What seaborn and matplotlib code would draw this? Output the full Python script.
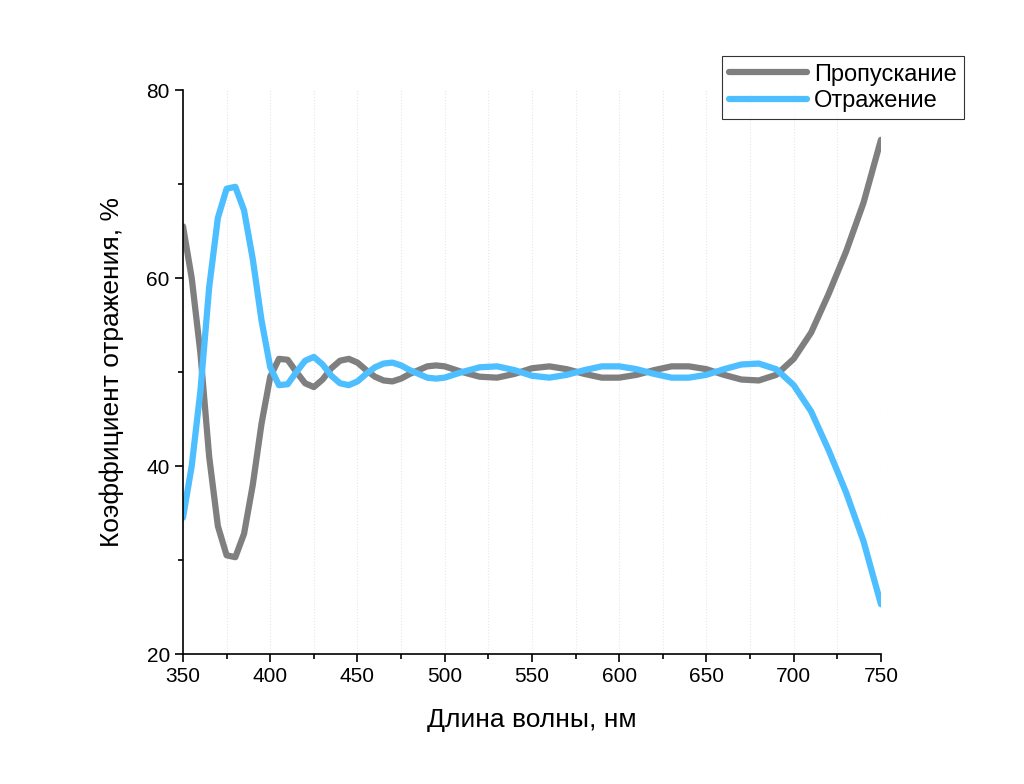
import matplotlib
matplotlib.use('Agg')
import matplotlib.pyplot as plt
import numpy as np
import pandas as pd
import seaborn as sns
from matplotlib.ticker import MultipleLocator

wavelength = [350, 355, 360, 365, 370, 375, 380, 385, 390, 395, 400, 405, 410, 415, 420,
              425, 430, 435, 440, 445, 450, 455, 460, 465, 470, 475, 480, 485, 490, 495,
              500, 510, 520, 530, 540, 550, 560, 570, 580, 590, 600, 610, 620, 630, 640,
              650, 660, 670, 680, 690, 700, 710, 720, 730, 740, 750]
reflection = [34.5, 40.0, 48.0, 59.0, 66.4, 69.5, 69.7, 67.2, 62.0, 55.5, 50.5, 48.6, 48.7, 50.0, 51.2,
              51.6, 50.8, 49.6, 48.8, 48.6, 49.0, 49.8, 50.5, 50.9, 51.0, 50.7, 50.2, 49.8, 49.4, 49.3,
              49.4, 50.0, 50.5, 50.6, 50.2, 49.6, 49.4, 49.7, 50.2, 50.6, 50.6, 50.3, 49.8, 49.4, 49.4,
              49.7, 50.3, 50.8, 50.9, 50.3, 48.6, 45.8, 41.7, 37.2, 32.0, 25.3]
transmission = [65.5, 60.0, 52.0, 41.0, 33.6, 30.5, 30.3, 32.8, 38.0, 44.5, 49.5, 51.4, 51.3, 50.0, 48.8,
                48.4, 49.2, 50.4, 51.2, 51.4, 51.0, 50.2, 49.5, 49.1, 49.0, 49.3, 49.8, 50.2, 50.6, 50.7,
                50.6, 50.0, 49.5, 49.4, 49.8, 50.4, 50.6, 50.3, 49.8, 49.4, 49.4, 49.7, 50.2, 50.6, 50.6,
                50.3, 49.7, 49.2, 49.1, 49.7, 51.4, 54.2, 58.3, 62.8, 68.0, 74.7]

sns.set_theme(style="ticks")
plt.rcParams['font.family'] = ['Liberation Sans', 'DejaVu Sans']
plt.rcParams['text.color'] = 'black'
plt.rcParams['axes.labelcolor'] = 'black'
plt.rcParams['xtick.color'] = 'black'
plt.rcParams['ytick.color'] = 'black'

df = pd.DataFrame({'x': wavelength, 'Пропускание': transmission, 'Отражение': reflection})
long = df.melt(id_vars='x', var_name='series', value_name='y')

fig = plt.figure(figsize=(10.24, 7.84), dpi=100)
ax = fig.add_axes([0.1787, 0.1658, 0.6816, 0.7194])
ax.grid(axis='x', which='both', linestyle=':', color='#e6e6e6', linewidth=0.8)
sns.lineplot(data=long, x='x', y='y', hue='series', palette=['#7f7f7f', '#4dbeff'],
             linewidth=4.5, ax=ax, legend=False)

ax.set_xlim(350, 750)
ax.set_ylim(20, 80)
ax.xaxis.set_major_locator(MultipleLocator(50))
ax.xaxis.set_minor_locator(MultipleLocator(25))
ax.yaxis.set_major_locator(MultipleLocator(20))
ax.yaxis.set_minor_locator(MultipleLocator(10))
ax.tick_params(which='major', length=6, width=1.2, labelsize=15)
ax.tick_params(which='minor', length=3.5, width=1.2)
for s in ['top', 'right']:
    ax.spines[s].set_visible(False)
for s in ['left', 'bottom']:
    ax.spines[s].set_linewidth(1.2)
    ax.spines[s].set_color('black')
ax.set_xlabel('Длина волны, нм', fontsize=19, labelpad=16)
ax.set_ylabel('Коэффициент отражения, %', fontsize=19, labelpad=16)

handles = [plt.Line2D([], [], color='#7f7f7f', lw=4.5), plt.Line2D([], [], color='#4dbeff', lw=4.5)]
leg = fig.legend(handles, ['Пропускание', 'Отражение'], loc='upper right',
                 bbox_to_anchor=(0.953, 0.943), fontsize=17, frameon=True, fancybox=False,
                 handlelength=3.3, borderpad=0.3, labelspacing=0.2, handletextpad=0.3)
leg.get_frame().set_edgecolor('black')
leg.get_frame().set_linewidth(0.8)

fig.savefig('out.png', dpi=100)
